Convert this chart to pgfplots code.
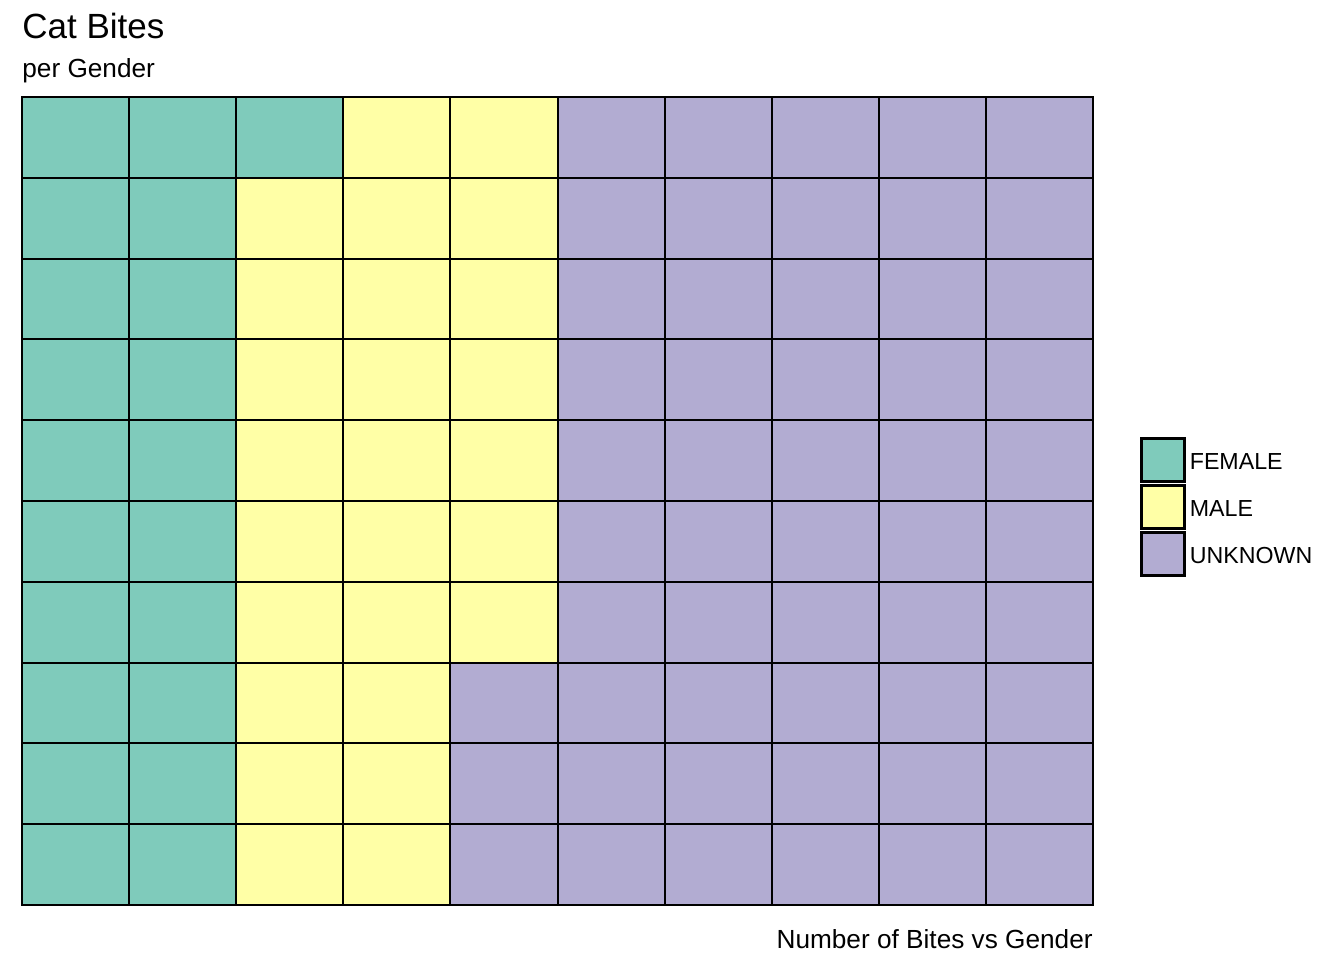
\documentclass[border=0pt]{standalone}
\usepackage{fontspec}
\setmainfont{Liberation Sans}
\usepackage{pgfplots}
\pgfplotsset{compat=1.18}
\definecolor{cfemale}{HTML}{7FCBBB}
\definecolor{cmale}{HTML}{FFFFA6}
\definecolor{cunknown}{HTML}{B2ACD2}

\begin{document}
\begin{tikzpicture}[x=1pt,y=1pt]
\path (0,0) rectangle (672,480);
\begin{axis}[
    at={(11pt,27.5pt)}, anchor=south west,
    scale only axis, width=535.5pt, height=404pt,
    ybar stacked, bar width=1,
    xmin=0.5, xmax=10.5, ymin=0, ymax=10,
    xtick={1.5,2.5,...,9.5}, ytick={1,...,9},
    xticklabels={,,}, yticklabels={,,},
    major tick length=0pt,
    grid=major,
    grid style={black, line width=1pt, solid},
    axis line style={black, line width=1pt},
    axis on top,
    reverse legend,
    legend image code/.code={
      \draw[#1, draw=black, line width=1.4pt] (0pt,-9.25pt) rectangle (21.5pt,12.25pt);
    },
    legend style={
      at={(rel axis cs:1.0439,0.4926)}, anchor=west,
      draw=none, fill=none, inner sep=0pt, outer sep=0pt,
      font=\fontsize{11.6}{13}\selectfont,
      row sep=0.5pt, cells={anchor=west},
      /tikz/every even column/.append style={column sep=3.5pt},
    },
  ]
  % counts per column, filled from the top: unknown at the bottom of the stack
  \addplot[fill=cunknown, draw=none] coordinates {
    (1,0) (2,0) (3,0) (4,0) (5,3) (6,10) (7,10) (8,10) (9,10) (10,10)};
  \addlegendentry{UNKNOWN}
  \addplot[fill=cmale, draw=none] coordinates {
    (1,0) (2,0) (3,9) (4,10) (5,7) (6,0) (7,0) (8,0) (9,0) (10,0)};
  \addlegendentry{MALE}
  \addplot[fill=cfemale, draw=none] coordinates {
    (1,10) (2,10) (3,1) (4,0) (5,0) (6,0) (7,0) (8,0) (9,0) (10,0)};
  \addlegendentry{FEMALE}
\end{axis}
\node[anchor=base west, inner sep=0pt, font=\fontsize{17.5}{20}\selectfont] at (11,460.5) {Cat Bites};
\node[anchor=base west, inner sep=0pt, font=\fontsize{13.1}{15}\selectfont] at (11,441) {per Gender};
\node[anchor=base east, inner sep=0pt, font=\fontsize{13.1}{15}\selectfont] at (546.5,6) {Number of Bites vs Gender};
\end{tikzpicture}
\end{document}
